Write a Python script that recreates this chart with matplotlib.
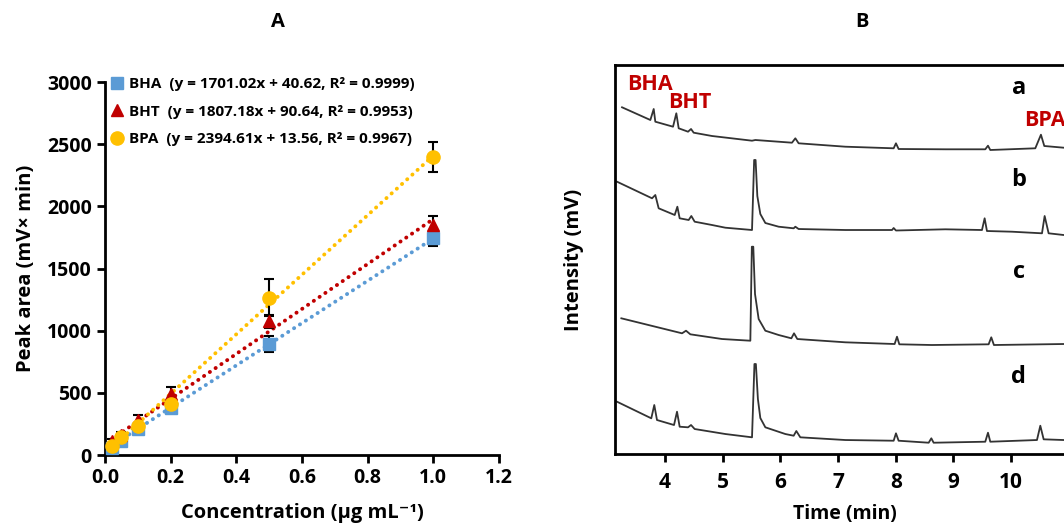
import numpy as np
import matplotlib
matplotlib.use('Agg')
import matplotlib.pyplot as plt

plt.rcParams['font.family'] = ['Open Sans', 'DejaVu Sans']
plt.rcParams['font.weight'] = 'bold'

# ---- panel A: calibration data ----
conc = [0.02, 0.05, 0.1, 0.2, 0.5, 1.0]
bha_area = [55, 115, 210, 375, 890, 1745]
bht_area = [110, 165, 285, 490, 1075, 1850]
bpa_area = [70, 145, 235, 410, 1265, 2400]
bha_err = [12, 15, 20, 38, 65, 65]
bht_err = [15, 18, 35, 60, 50, 75]
bpa_err = [12, 15, 20, 30, 150, 120]
bha_fit = (1701.02, 40.62)
bht_fit = (1807.18, 90.64)
bpa_fit = (2394.61, 13.56)
bha_label = 'BHA  (y = 1701.02x + 40.62, R² = 0.9999)'
bht_label = 'BHT  (y = 1807.18x + 90.64, R² = 0.9953)'
bpa_label = 'BPA  (y = 2394.61x + 13.56, R² = 0.9967)'

# ---- panel B: chromatograms (time in min, intensity in arbitrary mV, stacked) ----
trace_a_t = [3.255, 3.746, 3.804, 3.832, 4.139, 4.196, 4.237, 4.399, 4.451, 4.497,
             4.815, 5.508, 5.566, 6.201, 6.259, 6.316, 7.125, 7.963, 8.003, 8.049,
             8.858, 9.551, 9.598, 9.638, 10.418, 10.516, 10.574, 10.91, 11.2]
trace_a_i = [346.7, 334, 345, 332.3, 327.3, 340.7, 325.7, 322.3, 325, 321.3,
             318, 313.3, 314, 311.3, 315.7, 310.7, 307.3, 305.7, 310.7, 305,
             304.7, 304.7, 308.3, 304, 305.7, 319.3, 308, 306.3, 306]

trace_b_t = [3.168, 3.775, 3.832, 3.890, 4.168, 4.214, 4.254, 4.410, 4.456, 4.514,
             4.815, 5.046, 5.508, 5.545, 5.570, 5.600, 5.652, 5.739, 5.970, 6.230,
             6.259, 6.316, 7.125, 7.935, 7.963, 8.003, 8.858, 9.494, 9.540, 9.580,
             10.014, 10.534, 10.580, 10.649, 10.91, 11.2]
trace_b_i = [272.3, 255.7, 259, 245.7, 239, 247.3, 235.7, 234, 238, 232.3,
             229, 226.3, 224, 294, 294, 258, 240, 231, 227.3, 225.7,
             227.3, 225, 224, 224, 226, 223.5, 224.7, 224, 235.7, 223,
             222.3, 220.7, 238, 220.7, 219, 219]

trace_c_t = [3.243, 4.295, 4.364, 4.439, 4.988, 5.479, 5.505, 5.530, 5.560, 5.623, 5.739,
             5.970, 6.190, 6.236, 6.293, 7.125, 7.980, 8.021, 8.061, 8.627, 9.609,
             9.655, 9.701, 10.91, 11.2]
trace_c_i = [135.7, 120.7, 123.3, 119.7, 115, 113.3, 207.3, 207.3, 160, 135, 123.3,
             119, 115.7, 120.7, 115, 111.7, 110, 117.3, 109.7, 109, 109.7,
             116.7, 109, 110, 110]

trace_d_t = [3.168, 3.762, 3.814, 3.861, 4.156, 4.208, 4.254, 4.399, 4.451, 4.514,
             5.046, 5.508, 5.550, 5.575, 5.610, 5.652, 5.739, 6.085, 6.230, 6.276, 6.345,
             7.125, 7.963, 8.003, 8.049, 8.570, 8.616, 8.656, 9.551, 9.598, 9.638,
             10.447, 10.505, 10.563, 10.91, 11.2]
trace_d_i = [52.3, 35.7, 49, 34, 29, 42.3, 27.3, 26.7, 29, 25,
             20, 16.7, 90, 90, 55, 36, 26.7, 20, 18.3, 23, 16.7,
             14, 13.3, 20.7, 13.3, 11.3, 15.7, 11.3, 12.3, 21.3, 12.3,
             14, 28.3, 14.7, 14, 14]

trace_names = ['a', 'b', 'c', 'd']
trace_name_y = [366, 274, 182, 77]
peak_names = ['BHA', 'BHT', 'BPA']
peak_label_t = [3.74, 4.43, 10.59]
peak_label_y = [369, 351, 333]
time_ticks = [4, 5, 6, 7, 8, 9, 10, 11]
time_labels = ['4', '5', '6', '7', '8', '9', '10', '']

fig = plt.figure(figsize=(10.64, 5.25), dpi=100)

# ---------------- panel A ----------------
ax = fig.add_axes([0.0987, 0.1333, 0.3703, 0.7105])
x = np.array(conc)
series = [(bha_area, bha_err, bha_fit, bha_label, '#5B9BD5', 's', 8.5),
          (bht_area, bht_err, bht_fit, bht_label, '#C00000', '^', 9),
          (bpa_area, bpa_err, bpa_fit, bpa_label, '#FFC000', 'o', 9.5)]
for vals, err, fit, lab, col, mk, ms in series:
	fx = np.array([x.min(), x.max()])
	ax.plot(fx, fit[0]*fx + fit[1], color=col, lw=2.8,
		linestyle=(0, (0.05, 1.75)), dash_capstyle='round', zorder=2)
for vals, err, fit, lab, col, mk, ms in series:
	ax.errorbar(x, vals, yerr=err, fmt='none', ecolor='black', elinewidth=1.5,
		capsize=3.5, capthick=1.5, zorder=3)
	ax.plot(x, vals, mk, color=col, ms=ms, mec=col, label=lab, zorder=4)

ax.set_xlim(0, 1.2)
ax.set_ylim(0, 3000)
ax.set_xticks(np.arange(0, 1.21, 0.2))
ax.set_xticklabels(['%.1f' % v for v in np.arange(0, 1.21, 0.2)])
ax.set_yticks(range(0, 3001, 500))
for s in ['top', 'right']:
	ax.spines[s].set_visible(False)
for s in ['left', 'bottom']:
	ax.spines[s].set_linewidth(2)
ax.tick_params(width=2, length=6, labelsize=14)
ax.set_xlabel('Concentration (µg mL⁻¹)', fontsize=14.5, fontweight='bold', labelpad=11)
ax.set_ylabel('Peak area (mV× min)', fontsize=14.5, fontweight='bold', labelpad=8)
leg = ax.legend(loc='upper left', bbox_to_anchor=(0.0, 1.03), frameon=False,
	handlelength=0.8, handletextpad=0.4, labelspacing=0.9, fontsize=11,
	borderaxespad=0)
fig.text(0.261, 0.958, 'A', ha='center', va='center', fontsize=14.5, fontweight='bold')

# ---------------- panel B ----------------
bx = fig.add_axes([0.578, 0.1352, 0.432, 0.741])
for tt, ii in [(trace_a_t, trace_a_i), (trace_b_t, trace_b_i),
               (trace_c_t, trace_c_i), (trace_d_t, trace_d_i)]:
	bx.plot(tt, ii, color='#333333', lw=1.3)
bx.set_xlim(3.133, 11.1)
bx.set_ylim(0, 389)
bx.set_xticks(time_ticks)
bx.set_xticklabels(time_labels)
bx.set_yticks([])
for s in bx.spines.values():
	s.set_linewidth(2)
bx.tick_params(axis='x', width=2, length=6, labelsize=15, pad=7)
bx.set_xlabel('Time (min)', fontsize=14, fontweight='bold', labelpad=8)
bx.set_ylabel('Intensity (mV)', fontsize=14.5, fontweight='bold', labelpad=22)
for nm, yy in zip(trace_names, trace_name_y):
	bx.text(10.13, yy, nm, ha='center', va='center', fontsize=17, fontweight='bold')
for nm, tt, yy in zip(peak_names, peak_label_t, peak_label_y):
	bx.text(tt, yy, nm, ha='center', va='center', fontsize=15.5, fontweight='bold',
		color='#C00000')
fig.text(0.81, 0.958, 'B', ha='center', va='center', fontsize=14.5, fontweight='bold')

fig.savefig('out.png', dpi=100)
